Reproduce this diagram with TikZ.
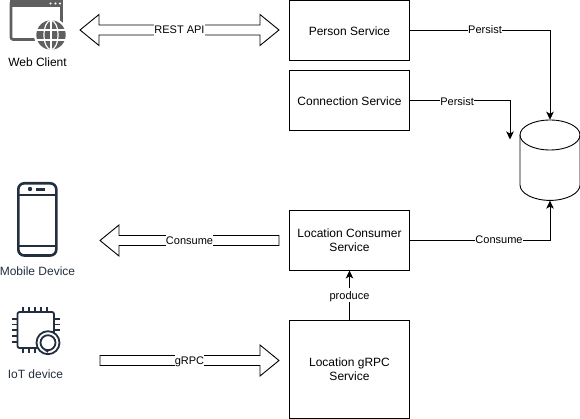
\documentclass[tikz,border=0pt]{standalone}
\usepackage{fontspec}
\setmainfont{Liberation Sans}
\usetikzlibrary{arrows.meta}
\definecolor{icongray}{HTML}{5F5F5F}
\definecolor{iconnavy}{HTML}{232F3E}
\tikzset{
    servicebox/.style={draw, line width=0.9pt, minimum width=120pt, inner sep=0pt, align=center, font=\fontsize{12}{14}\selectfont, execute at begin node={\rule{0pt}{10.5pt}}},
    devicelabel/.style={inner sep=0pt, font=\fontsize{12}{14}\selectfont},
    edgelabel/.style={fill=white, inner sep=0pt, text height=11pt, text depth=3pt, font=\fontsize{11}{13}\selectfont},
    thinarrow/.style={line width=0.9pt, -{Stealth[length=8pt,width=7.5pt,inset=2pt]}},
    blockarrow/.style={draw, line width=0.9pt, fill=white, line join=miter},
    dbline/.style={line width=0.9pt},
}
\begin{document}
\begin{tikzpicture}[x=1pt, y=-1pt]
    \useasboundingbox (0,0) rectangle (580,419);

    \node[servicebox, minimum height=59.5pt] (person) at (349.5,30.25) {Person Service};
    \node[servicebox, minimum height=60pt] (connection) at (349.5,100) {Connection Service};
    \node[servicebox, minimum height=60pt] (consumer) at (349.5,240) {Location Consumer\\Service};
    \node[servicebox, minimum height=98.5pt] (grpc) at (349.5,369.25) {Location gRPC\\Service};
    \node[minimum width=60pt, minimum height=80.5pt, inner sep=0pt] (db) at (550,160.2) {};

    \draw[dbline] (550,135) ellipse (30 and 15);
    \draw[dbline] (520,135) -- (520,185) .. controls (520,193.3) and (533.4,200.4) .. (550,200.4)
        .. controls (566.6,200.4) and (580,193.3) .. (580,185) -- (580,135);

    \coordinate (persistend) at (510,139.5);
    \draw[thinarrow] (person.east) -| (db.north) node[edgelabel, pos=0.268, yshift=1pt] (persistone) {Persist};
    \draw[thinarrow] (connection.east) -| (persistend) node[edgelabel, pos=0.236, yshift=-2pt] (persisttwo) {Persist};
    \draw[thinarrow] (consumer.east) -| (db.south) node[edgelabel, pos=0.318] (consumeone) {Consume};
    \draw[thinarrow] (grpc.north) -- (consumer.south) node[edgelabel, midway] (produce) {produce};

    \coordinate (restleft) at (80,30);
    \coordinate (restright) at (279,30);
    \draw[blockarrow] (restleft) -- ++(19,-15.5) -- ++(0,10.5) -- ++(161,0) -- ++(0,-10.5) -- (restright)
        -- ++(-19,15.5) -- ++(0,-10.5) -- ++(-161,0) -- ++(0,10.5) -- cycle;
    \node[edgelabel] (rest) at (179.5,30) {REST API};

    \coordinate (consumetip) at (100,240.5);
    \draw[blockarrow] (consumetip) -- ++(19,-15.5) -- ++(0,10.5) -- ++(160,0) -- ++(0,10) -- ++(-160,0) -- ++(0,10.5) -- cycle;
    \node[edgelabel] (consumetwo) at (189.5,240.5) {Consume};

    \coordinate (grpctip) at (279,360.5);
    \draw[blockarrow] (grpctip) -- ++(-19,-15.5) -- ++(0,10.5) -- ++(-160,0) -- ++(0,10) -- ++(160,0) -- ++(0,10.5) -- cycle;
    \node[edgelabel] (grpclabel) at (189.5,360.5) {gRPC};

    \draw[icongray, line width=2.6pt, rounded corners=2pt] (11,1) rectangle (61.5,39.5);
    \fill[icongray] (10,0) rectangle (62.5,7);
    \foreach \i in {50.5,55.5,60} {
        \fill[white] (\i,3.5) circle (1.1);
    }
    \fill[white] (51,35) circle (17);
    \fill[icongray] (51,35) circle (14.7);
    \draw[white, line width=1.2pt] (51,35) ellipse (7 and 14.7);
    \draw[white, line width=1.2pt] (51,20.3) -- (51,49.7);
    \draw[white, line width=1.2pt] (37,30) -- (65,30);
    \draw[white, line width=1.2pt] (37,40) -- (65,40);
    \node[devicelabel] (webclient) at (37.5,62) {Web Client};

    \draw[iconnavy, line width=2.6pt, rounded corners=6pt] (18.3,183.3) rectangle (56.3,255.5);
    \draw[iconnavy, line width=2pt] (18.3,195) -- (56.3,195);
    \draw[iconnavy, line width=2pt] (18.3,246) -- (56.3,246);
    \fill[iconnavy] (30,189) circle (2.2);
    \fill[iconnavy] (36,188) rectangle (45,191);
    \node[devicelabel, text=iconnavy] (mobile) at (37.5,271.7) {Mobile Device};

    \draw[iconnavy, line width=1.8pt, rounded corners=2pt] (17.5,312) rectangle (54,348);
    \foreach \i in {23,29,35,41,47} {
        \draw[iconnavy, line width=1.8pt] (\i,307) -- (\i,312);
    }
    \foreach \i in {23,29,35} {
        \draw[iconnavy, line width=1.8pt] (\i,348) -- (\i,353);
    }
    \foreach \j in {319,324.5,330,336,342} {
        \draw[iconnavy, line width=1.8pt] (11.5,\j) -- (17.5,\j);
    }
    \foreach \j in {319,324.5,330} {
        \draw[iconnavy, line width=1.8pt] (54,\j) -- (59.5,\j);
    }
    \draw[iconnavy, line width=1.8pt, fill=white] (48,342.7) circle (11.5);
    \draw[iconnavy, line width=1.8pt, fill=white] (48,342.7) circle (7.5);
    \draw[iconnavy, line width=1.8pt] (45,349.5) -- (48,352);
    \node[devicelabel, text=iconnavy] (iot) at (35.5,374) {IoT device};
\end{tikzpicture}
\end{document}
